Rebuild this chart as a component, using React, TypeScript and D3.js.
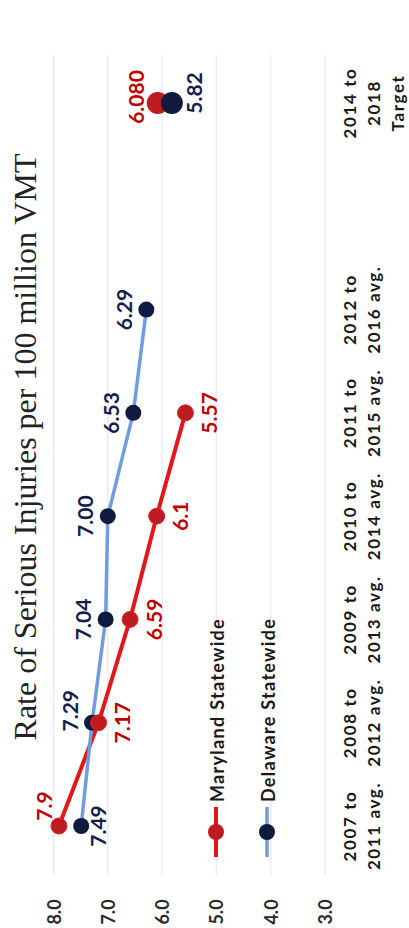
import React from "react";
import * as d3 from "d3";

const categories = ["2007-2011", "2008-2012", "2009-2013", "2010-2014", "2011-2015", "2012-2016", "gap", "2014-2018 Target"];
const categoryLabels = [
  ["2007 to", "2011 avg."],
  ["2008 to", "2012 avg."],
  ["2009 to", "2013 avg."],
  ["2010 to", "2014 avg."],
  ["2011 to", "2015 avg."],
  ["2012 to", "2016 avg."],
  [],
  ["2014 to", "2018", "Target"],
];
const marylandValues = [7.9, 7.17, 6.59, 6.1, 5.57];
const marylandLabels = ["7.9", "7.17", "6.59", "6.1", "5.57"];
const delawareValues = [7.49, 7.29, 7.04, 7.0, 6.53, 6.29];
const delawareLabels = ["7.49", "7.29", "7.04", "7.00", "6.53", "6.29"];
const marylandTarget = 6.08;
const marylandTargetLabel = "6.080";
const delawareTarget = 5.82;
const delawareTargetLabel = "5.82";
const valueTicks = [8, 7, 6, 5, 4, 3];
const title = "Rate of Serious Injuries per 100 million VMT";

const W = 409;
const H = 928;

const RED_LINE = "#e2161b";
const RED_MARK = "#bf1a1f";
const RED_TEXT = "#c00000";
const BLUE_LINE = "#6f9de0";
const NAVY = "#0e1a3e";
const NAVY_TEXT = "#13204e";
const SANS = "Lato, 'Open Sans', sans-serif";

export default function App() {
  // landscape coordinates (u horizontal, v vertical), rotated -90deg into the page
  const u = d3.scalePoint<string>().domain(categories).range([102, 825]);
  const v = d3.scaleLinear().domain([3, 8]).range([325, 53.5]);

  const line = d3
    .line<number>()
    .x((_, i) => u(categories[i]) as number)
    .y((d) => v(d));

  const targetU = u(categories[7]) as number;

  return (
    <svg
      width={W}
      height={H}
      style={{ position: "absolute", left: 0, top: 0, background: "#fff" }}
    >
      <rect x={0} y={0} width={W} height={H} fill="#fff" />
      <g transform={`translate(0,${H}) rotate(-90)`}>
        {/* gridlines */}
        {valueTicks.map((t) => (
          <line key={t} x1={53} x2={873} y1={v(t)} y2={v(t)} stroke="#ececef" strokeWidth={1.5} />
        ))}
        {/* tick labels */}
        {valueTicks.map((t) => (
          <text
            key={"t" + t}
            x={16}
            y={v(t)}
            textAnchor="middle"
            dominantBaseline="central"
            fontFamily={SANS}
            fontWeight="bold"
            fontSize={18}
            fill="#2a2a2a"
          >
            {t.toFixed(1)}
          </text>
        ))}
        {/* category labels */}
        {categoryLabels.map((lines, i) => (
          <text
            key={"c" + i}
            textAnchor="middle"
            fontFamily={SANS}
            fontWeight="bold"
            fontSize={17}
            letterSpacing={1.6}
            fill="#1a1a1a"
          >
            {lines.map((ln, j) => (
              <tspan key={j} x={u(categories[i]) as number} y={356 + j * 24}>
                {ln}
              </tspan>
            ))}
          </text>
        ))}
        {/* title */}
        <text
          x={481}
          y={36}
          textAnchor="middle"
          fontFamily="'Liberation Serif', 'Times New Roman', serif"
          fontSize={32}
          fill="#222"
        >
          {title}
        </text>
        {/* lines */}
        <path d={line(marylandValues) || ""} fill="none" stroke={RED_LINE} strokeWidth={4} />
        <path d={line(delawareValues) || ""} fill="none" stroke={BLUE_LINE} strokeWidth={3.5} />
        {/* markers */}
        {delawareValues.map((d, i) => (
          <circle key={"dm" + i} cx={u(categories[i]) as number} cy={v(d)} r={8} fill={NAVY} />
        ))}
        {marylandValues.map((d, i) => (
          <circle key={"mm" + i} cx={u(categories[i]) as number} cy={v(d)} r={8} fill={RED_MARK} stroke="#d42a2e" strokeWidth={1} />
        ))}
        {/* target markers */}
        <circle cx={targetU} cy={v(marylandTarget)} r={11} fill={RED_MARK} />
        <circle cx={targetU} cy={v(delawareTarget)} r={11} fill={NAVY} />
        {/* data labels */}
        {delawareValues.map((d, i) => {
          const du = i === 1 ? 12 : 0;
          const dv = i === 0 ? 16 : -23;
          return (
            <text
              key={"dl" + i}
              x={(u(categories[i]) as number) + du}
              y={v(d) + dv}
              textAnchor="middle"
              dominantBaseline="central"
              fontFamily={SANS}
              fontWeight="bold"
              fontSize={21}
              fill={NAVY_TEXT}
            >
              {delawareLabels[i]}
            </text>
          );
        })}
        {marylandValues.map((d, i) => {
          const du = i === 0 ? 20 : 0;
          const dv = i === 0 ? -15 : 23;
          return (
            <text
              key={"ml" + i}
              x={(u(categories[i]) as number) + du}
              y={v(d) + dv}
              textAnchor="middle"
              dominantBaseline="central"
              fontFamily={SANS}
              fontWeight="bold"
              fontSize={21}
              fill={RED_TEXT}
            >
              {marylandLabels[i]}
            </text>
          );
        })}
        <text
          x={targetU + 6}
          y={v(marylandTarget) - 22}
          textAnchor="middle"
          dominantBaseline="central"
          fontFamily={SANS}
          fontWeight="bold"
          fontSize={21}
          fill={RED_TEXT}
        >
          {marylandTargetLabel}
        </text>
        <text
          x={targetU + 10}
          y={v(delawareTarget) + 22}
          textAnchor="middle"
          dominantBaseline="central"
          fontFamily={SANS}
          fontWeight="bold"
          fontSize={21}
          fill={NAVY_TEXT}
        >
          {delawareTargetLabel}
        </text>
        {/* legend */}
        <line x1={71} x2={121} y1={216} y2={216} stroke={RED_LINE} strokeWidth={4} />
        <circle cx={96} cy={216} r={8} fill={RED_MARK} />
        <text x={126} y={217} dominantBaseline="central" fontFamily={SANS} fontWeight="bold" fontSize={18} letterSpacing={1.3} fill="#1a1a1a">
          Maryland Statewide
        </text>
        <line x1={71} x2={121} y1={267} y2={267} stroke={BLUE_LINE} strokeWidth={3.5} />
        <circle cx={96} cy={267} r={8} fill={NAVY} />
        <text x={126} y={268} dominantBaseline="central" fontFamily={SANS} fontWeight="bold" fontSize={18} letterSpacing={1.3} fill="#1a1a1a">
          Delaware Statewide
        </text>
      </g>
    </svg>
  );
}
